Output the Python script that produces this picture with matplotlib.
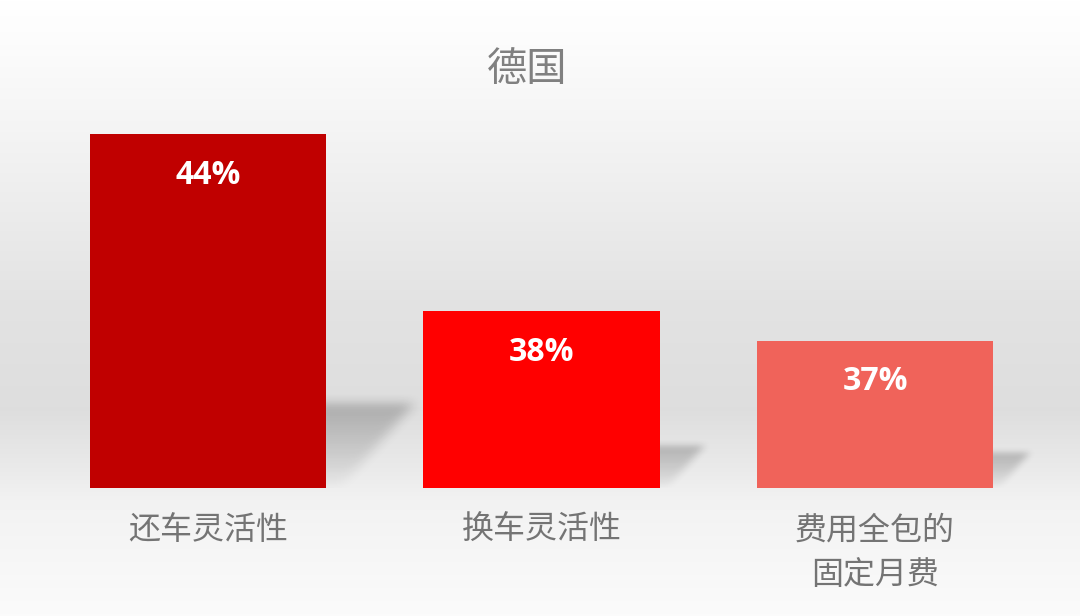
import numpy as np
import matplotlib.pyplot as plt
from matplotlib.path import Path

plt.rcParams['font.family'] = ['Noto Sans CJK SC', 'DejaVu Sans']

# 数据
categories = ['还车灵活性', '换车灵活性', '费用全包的\n固定月费']
values = [44, 38, 37]
labels = ['44%', '38%', '37%']
colors = ['#C00000', '#FF0000', '#F0635A']
title = '德国'

fig = plt.figure(figsize=(10.8, 6.16), dpi=100)

# 背景渐变
bg = fig.add_axes([0, 0, 1, 1], zorder=0)
ypix = np.arange(616)
shade = np.interp(ypix, [0, 40, 150, 300, 410, 470, 500, 616],
                  [1.0, 0.99, 0.95, 0.89, 0.87, 0.92, 0.95, 0.985])
grad = np.repeat(shade[:, None], 10, axis=1)
bg.imshow(np.dstack([grad, grad, grad]), extent=[0, 1, 0, 1], aspect='auto')
bg.axis('off')

# 主图
ymin = 32
ax = fig.add_axes([0, 128 / 616, 1, 388 / 616], zorder=1)
ax.patch.set_alpha(0)
x = np.arange(len(values))
bars = ax.bar(x, values, width=0.708, bottom=0, color=colors, zorder=3)
ax.set_xlim(-208 / 333.5, (1080 - 208) / 333.5)
ax.set_ylim(ymin, ymin + 388 / 29.5)


def blur(a, k):
    kern = np.ones(k) / k
    a = np.apply_along_axis(lambda m: np.convolve(m, kern, mode='same'), 0, a)
    a = np.apply_along_axis(lambda m: np.convolve(m, kern, mode='same'), 1, a)
    return a


# 阴影（模糊的斜向投影）
for i, v in enumerate(values):
    r = x[i] + 0.354
    hs = 0.24 * (v - ymin)
    ws = hs * 29.5 / 333.5 * 1.05
    x0, x1 = r - 0.05, r + ws + 0.12
    y0, y1 = ymin - 0.3, ymin + hs + 1.0
    nx, ny = 140, 140
    gx, gy = np.meshgrid(np.linspace(x0, x1, nx), np.linspace(y0, y1, ny))
    verts = [(r - 0.03, ymin), (r - 0.03, ymin + hs), (r + ws, ymin + hs),
             (r + 0.15 * ws, ymin)]
    inside = Path(verts).contains_points(np.c_[gx.ravel(), gy.ravel()]).reshape(ny, nx)
    fade = np.clip((gy - ymin) / hs, 0, 1) ** 0.7
    a = blur(blur(inside.astype(float) * fade, 13), 13) * 0.22
    a[gy < ymin] = 0
    img = np.zeros((ny, nx, 4))
    img[..., 3] = a
    ax.imshow(img, extent=[x0, x1, y0, y1], origin='lower', aspect='auto',
              zorder=2, interpolation='bilinear')

# 数值标签
for i, v in enumerate(values):
    ax.text(x[i], v - 1.4, labels[i], ha='center', va='center', color='white',
            fontsize=23, fontweight='bold', family=['Open Sans', 'DejaVu Sans'], zorder=4)

ax.set_xticks(x)
ax.set_xticklabels(categories, fontsize=23, color='#747474', linespacing=1.5)
ax.tick_params(axis='x', length=0, pad=19)
ax.set_yticks([])
for s in ax.spines.values():
    s.set_visible(False)

fig.text(527 / 1080, 1 - 70 / 616, title, ha='center', va='center',
         fontsize=29, color='#808080')

fig.savefig('out.png', dpi=100)
